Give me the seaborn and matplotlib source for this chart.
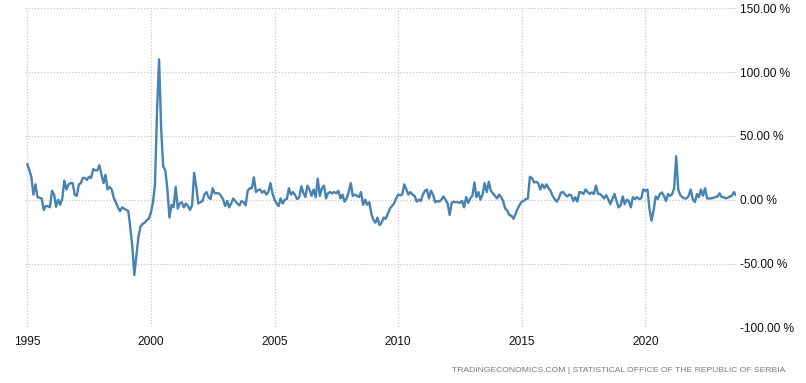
import matplotlib
matplotlib.use("Agg")
import matplotlib.pyplot as plt
import seaborn as sns
import pandas as pd

# Monthly year-over-year change (%), Jan 1995 .. Sep 2023
y1995 = [28, 23, 18, 4, 12, 2, 1.5, 1, -8, -5, -5, -6]
y1996 = [7, 4, -5.5, 0, -4, 1, 15, 8, 12, 13, 13, 4]
y1997 = [3, 12, 13, 17, 17, 15.5, 18, 17, 24, 23, 23, 27]
y1998 = [19.5, 13, 19.5, 8, 10, 8, 1.5, -2, -6, -9, -6, -7]
y1999 = [-8, -9, -21, -36, -59, -44, -29, -21, -19, -18, -16, -15]
y2000 = [-10, -2, 12, 70, 110, 55, 26, 23, 8, -14, -4, -6]
y2001 = [10, -7, -3, -2, -6, -3, -5, -8, -4, 21, 10, -3]
y2002 = [-2, -1, 4, 6, 2, 0.5, 9, 5, 5, 5, 3, 0.5]
y2003 = [-5, -1, -6, -3, 1, -1, -3, -4.5, -1, -2, -4.5, 7]
y2004 = [9, 9, 17.5, 6, 7.5, 8, 5.5, 7, 4, 6, 13, 5]
y2005 = [0, -3, -5, 1, -3, 0, 0.5, 9, 4, 6, 3.5, 0.5]
y2006 = [2, 10.5, 5.5, 2, 11, 8, 3, 8, 2, 16.5, 3, 9]
y2007 = [11, 1, 5, 6, 5, 6, 5, 7, 1, 4, -1.5, 1]
y2008 = [6, 13, 3, 4, 3, 2, 6, -4, 0, -4, -2, -11]
y2009 = [-16, -18, -14, -20, -18, -14, -15, -11, -7, -5, -3, 1]
y2010 = [4, 3.5, 4, 12, 8, 4, 6, 4, 3, -1.5, 0, -1]
y2011 = [4, 7, 8, 1, 7, 4, -2, -1, -1.5, 0, 2.5, 0]
y2012 = [-3, -12, -2.5, -1.5, -2, -2, -2.5, -1, -6, 2, -2.5, 1]
y2013 = [3, 13.5, 2, 6, 0, 4, 13, 6, 14, 7, 5, 3]
y2014 = [1, 4, 2, -1, -7, -8.5, -12, -12.5, -15, -11, -7, -4]
y2015 = [-1.5, -1, 0.5, 1, 18, 17, 13.5, 14, 13, 8, 12, 9]
y2016 = [12, 9, 7, 3, 0.5, -1.5, 1, 5.5, 6, 4, 2.5, 4]
y2017 = [3.5, -1, 2, -1.5, 6, 5.7, 4.5, 8, 6, 4.5, 5.7, 4.5]
y2018 = [11, 4.5, 4.5, 3, 1, 3.5, 0.5, -3.5, 0.5, 4.5, -1, -6]
y2019 = [-4.5, 2.5, -3.5, 0, -1, -6, 2, 0.5, 2, 0.5, 1, 8]
y2020 = [7, 8, -7, -16.5, -8.5, 2.5, 0.5, 4.5, 5.7, 3, -1, 4.5]
y2021 = [3, 4.5, 9, 34, 8, 3.5, 2, 1, 1, 3, 8, 0.5]
y2022 = [-2, 4.5, 2, 8, 3, 9, 1, 1, 1, 1.5, 2, 2.5]
y2023 = [5, 2, 2, 1, 1.5, 2.5, 3, 6, 3.5]

yearly = [y1995, y1996, y1997, y1998, y1999, y2000, y2001, y2002, y2003, y2004,
          y2005, y2006, y2007, y2008, y2009, y2010, y2011, y2012, y2013, y2014,
          y2015, y2016, y2017, y2018, y2019, y2020, y2021, y2022, y2023]
values = [v for yr in yearly for v in yr]

y_ticks = [-100, -50, 0, 50, 100, 150]
x_tick_years = [1995, 2000, 2005, 2010, 2015, 2020]
source_text = "TRADINGECONOMICS.COM | STATISTICAL OFFICE OF THE REPUBLIC OF SERBIA"

df = pd.DataFrame({
    "date": pd.date_range("1995-01-01", periods=len(values), freq="MS"),
    "value": values,
})

sns.set_style("white")
plt.rcParams["font.family"] = ["Liberation Sans", "DejaVu Sans"]

fig = plt.figure(figsize=(8.06, 3.83), dpi=100)
ax = fig.add_axes([25 / 806, 1 - 327.3 / 383, (736 - 25) / 806, (327.3 - 8.3) / 383])

sns.lineplot(data=df, x="date", y="value", ax=ax, color="#4682b4", linewidth=1.7)

ax.set_ylim(-100, 150)
ax.set_xlim(pd.Timestamp("1994-11-28"), df["date"].iloc[-1])
ax.set_yticks(y_ticks)
ax.set_yticklabels([f"{t:.2f} %" for t in y_ticks])
ax.yaxis.tick_right()
ax.set_xticks([pd.Timestamp(f"{y}-01-01") for y in x_tick_years])
ax.set_xticklabels([str(y) for y in x_tick_years])

ax.set_xlabel("")
ax.set_ylabel("")
for s in ax.spines.values():
    s.set_visible(False)

ax.grid(True, which="major", axis="both", color="#c8c8c8", linestyle=(0, (1, 1.5)), linewidth=0.9)
ax.tick_params(axis="y", length=0, pad=3, labelsize=8.6, labelcolor="#111111")
ax.tick_params(axis="x", length=4, color="#c8c8c8", width=0.9, pad=2, labelsize=8.6, labelcolor="#111111")

fig.text(785 / 806, 1 - 371 / 383, source_text, ha="right", va="center",
         fontsize=6.1, color="#7a7a7a")

fig.savefig("out.png", dpi=100)
